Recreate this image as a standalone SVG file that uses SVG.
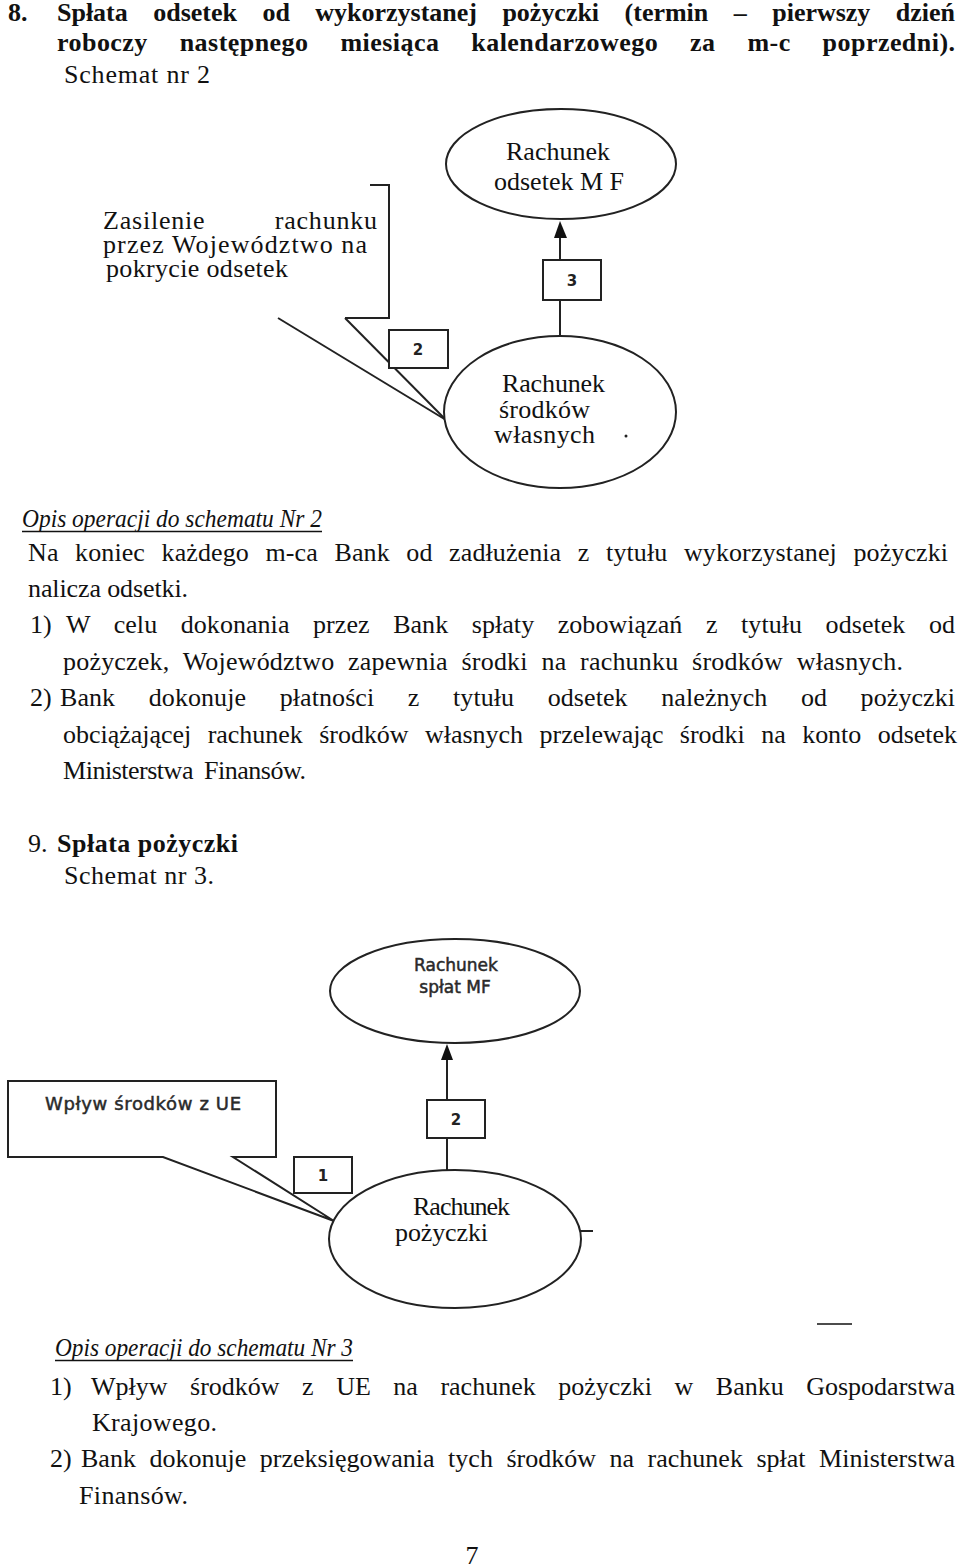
<svg xmlns="http://www.w3.org/2000/svg" width="960" height="1568" viewBox="0 0 960 1568">
<style>
  .t { font-family: "Liberation Serif", "Times New Roman", serif; font-size: 26px; fill: #111; }
  .b { font-weight: bold; }
  .h { font-family: "Liberation Serif", "Times New Roman", serif; font-size: 26px; font-style: italic; fill: #111; }
  .s { font-family: "DejaVu Sans", Verdana, sans-serif; fill: #2a2a2a; stroke: #2a2a2a; stroke-width: 0.5; }
  .n { font-family: "DejaVu Sans", Verdana, sans-serif; font-size: 15px; font-weight: bold; fill: #222; text-anchor: middle; }
  .shape { fill: #fff; stroke: #222; stroke-width: 2; }
  .ln { fill: none; stroke: #222; stroke-width: 2; }
  .head { fill: #111; stroke: none; }
  .ul { stroke: #111; stroke-width: 1.6; }
</style>
<rect width="960" height="1568" fill="#fff"/>

<!-- Heading section 8 -->
<text class="t b" x="8" y="21">8.</text>
<text class="t b" x="57" y="21" word-spacing="19" textLength="898" lengthAdjust="spacing">Spłata odsetek od wykorzystanej pożyczki (termin – pierwszy dzień</text>
<text class="t b" x="57" y="51" word-spacing="25" textLength="898" lengthAdjust="spacing">roboczy następnego miesiąca kalendarzowego za m-c poprzedni).</text>
<text class="t" x="64" y="83" textLength="146" lengthAdjust="spacing">Schemat nr 2</text>

<!-- Schema 2 connectors -->
<g id="connectors-2">
  <line class="ln" x1="560" y1="337" x2="560" y2="300"/>
  <line class="ln" x1="560" y1="260" x2="560" y2="236"/>
  <polygon class="head" points="560,221 554,238 567,238"/>
  <path class="ln" d="M345,318 L446,420"/>
  <path class="ln" d="M278,318 L446,420"/>
</g>

<!-- Schema 2 nodes -->
<g id="node-odsetek-mf">
  <ellipse class="shape" cx="561" cy="164" rx="115" ry="55"/>
  <text class="t" x="506" y="160">Rachunek</text>
  <text class="t" x="494" y="190">odsetek M F</text>
</g>
<g id="node-srodkow-wlasnych">
  <ellipse class="shape" cx="560" cy="412" rx="116" ry="76"/>
  <text class="t" x="502" y="392" font-size="25" textLength="103" lengthAdjust="spacing">Rachunek</text>
  <text class="t" x="499" y="418" font-size="25" textLength="91" lengthAdjust="spacing">środków</text>
  <text class="t" x="494" y="443" font-size="25" textLength="101" lengthAdjust="spacing">własnych</text>
  <circle cx="626" cy="436" r="1.5" fill="#222"/>
</g>
<g id="node-zasilenie">
  <path class="ln" d="M370,185 H389 V318 H345"/>
  <text class="t" x="103" y="229" font-size="24" word-spacing="62" textLength="274" lengthAdjust="spacing">Zasilenie rachunku</text>
  <text class="t" x="103" y="253" font-size="24" textLength="264" lengthAdjust="spacing">przez Województwo na</text>
  <text class="t" x="106" y="277" font-size="24" textLength="182" lengthAdjust="spacing">pokrycie odsetek</text>
</g>
<g id="label-2a">
  <rect class="shape" x="389" y="330" width="59" height="38"/>
  <text class="n" x="418" y="355">2</text>
</g>
<g id="label-3a">
  <rect class="shape" x="543" y="260" width="58" height="40"/>
  <text class="n" x="572" y="286">3</text>
</g>

<!-- Opis Nr 2 -->
<text class="h" x="22" y="527" textLength="300" lengthAdjust="spacingAndGlyphs">Opis operacji do schematu Nr 2</text>
<line class="ul" x1="22" y1="531.5" x2="322" y2="531.5"/>
<text class="t" x="28" y="561" word-spacing="10" textLength="920" lengthAdjust="spacing">Na koniec każdego m-ca Bank od zadłużenia z tytułu wykorzystanej pożyczki</text>
<text class="t" x="28" y="597" textLength="160" lengthAdjust="spacing">nalicza odsetki.</text>
<text class="t" x="30" y="633">1)</text>
<text class="t" x="66" y="633" word-spacing="17" textLength="889" lengthAdjust="spacing">W celu dokonania przez Bank spłaty zobowiązań z tytułu odsetek od</text>
<text class="t" x="63" y="670" word-spacing="7" textLength="840" lengthAdjust="spacing">pożyczek, Województwo zapewnia środki na rachunku środków własnych.</text>
<text class="t" x="30" y="706">2)</text>
<text class="t" x="60" y="706" word-spacing="27" textLength="895" lengthAdjust="spacing">Bank dokonuje płatności z tytułu odsetek należnych od pożyczki</text>
<text class="t" x="63" y="743" word-spacing="10" textLength="894" lengthAdjust="spacing">obciążającej rachunek środków własnych przelewając środki na konto odsetek</text>
<text class="t" x="63" y="779" word-spacing="5" textLength="243" lengthAdjust="spacing">Ministerstwa Finansów.</text>

<!-- Section 9 -->
<text class="t" x="28" y="852" font-size="27">9.</text>
<text class="t b" x="57" y="852" textLength="181" lengthAdjust="spacing">Spłata pożyczki</text>
<text class="t" x="64" y="884" textLength="150" lengthAdjust="spacing">Schemat nr 3.</text>

<!-- Schema 3 connectors -->
<g id="connectors-3">
  <line class="ln" x1="447" y1="1170" x2="447" y2="1138"/>
  <line class="ln" x1="447" y1="1100" x2="447" y2="1058"/>
  <polygon class="head" points="447,1044 441,1060 453,1060"/>
  <line class="ln" x1="580" y1="1231" x2="593" y2="1231" stroke-width="1.5"/>
</g>

<!-- Schema 3 nodes -->
<g id="node-splat-mf">
  <ellipse class="shape" cx="455" cy="991" rx="125" ry="52"/>
  <text class="s" x="456" y="971" font-size="17" text-anchor="middle">Rachunek</text>
  <text class="s" x="455" y="993" font-size="17" text-anchor="middle">spłat MF</text>
</g>
<g id="node-wplyw-ue">
  <path class="shape" d="M8,1081 H276 V1157 H233 L334,1221 L163,1157 H8 Z"/>
  <text class="s" x="45" y="1110" font-size="18" textLength="196" lengthAdjust="spacing">Wpływ środków z UE</text>
</g>
<g id="node-pozyczki">
  <ellipse class="shape" cx="455" cy="1239" rx="126" ry="69"/>
  <text class="t" x="413" y="1215" font-size="24.5" textLength="97" lengthAdjust="spacing">Rachunek</text>
  <text class="t" x="395" y="1241" font-size="24.5" textLength="93" lengthAdjust="spacing">pożyczki</text>
</g>
<g id="label-1b">
  <rect class="shape" x="294" y="1157" width="58" height="36"/>
  <text class="n" x="323" y="1181">1</text>
</g>
<g id="label-2b">
  <rect class="shape" x="427" y="1100" width="58" height="38"/>
  <text class="n" x="456" y="1125">2</text>
</g>

<line x1="817" y1="1324" x2="852" y2="1324" stroke="#111" stroke-width="1.6"/>

<!-- Opis Nr 3 -->
<text class="h" x="55" y="1356" textLength="298" lengthAdjust="spacingAndGlyphs">Opis operacji do schematu Nr 3</text>
<line class="ul" x1="55" y1="1360.5" x2="353" y2="1360.5"/>
<text class="t" x="50" y="1395">1)</text>
<text class="t" x="91" y="1395" word-spacing="16" textLength="864" lengthAdjust="spacing">Wpływ środków z UE na rachunek pożyczki w Banku Gospodarstwa</text>
<text class="t" x="92" y="1431" textLength="125" lengthAdjust="spacing">Krajowego.</text>
<text class="t" x="50" y="1467">2)</text>
<text class="t" x="81" y="1467" word-spacing="7" textLength="874" lengthAdjust="spacing">Bank dokonuje przeksięgowania tych środków na rachunek spłat Ministerstwa</text>
<text class="t" x="79" y="1504" textLength="109" lengthAdjust="spacing">Finansów.</text>

<text class="t" x="472" y="1564" text-anchor="middle" font-size="22">7</text>
</svg>
